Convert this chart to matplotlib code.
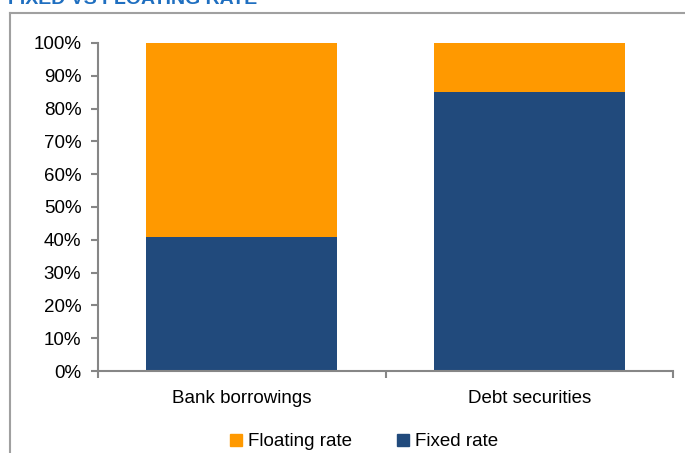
import matplotlib.pyplot as plt
from matplotlib.lines import Line2D
from matplotlib.patches import Patch
from matplotlib.ticker import PercentFormatter

plt.rcParams['font.family'] = ['Liberation Sans', 'DejaVu Sans']

categories = ['Bank borrowings', 'Debt securities']
fixed_rate = [41, 85]
floating_rate = [59, 15]

navy = '#214a7c'
orange = '#ff9900'
grey = '#868686'

W, H = 685, 453
fig = plt.figure(figsize=(W / 100, H / 100), dpi=100)
ax = fig.add_axes([98 / W, 1 - 371 / H, (673 - 98) / W, (371 - 43) / H])

x = range(len(categories))
ax.bar(x, fixed_rate, width=0.665, color=navy, label='Fixed rate')
ax.bar(x, floating_rate, width=0.665, bottom=fixed_rate, color=orange, label='Floating rate')

ax.set_xlim(-0.5, 1.5)
ax.set_ylim(0, 100)
ax.set_yticks(range(0, 101, 10))
ax.yaxis.set_major_formatter(PercentFormatter(decimals=0))
ax.set_xticks([-0.5, 0.5, 1.5])
ax.set_xticklabels([])
ax.set_xticks(list(x), minor=True)
ax.set_xticklabels(categories, minor=True)
ax.tick_params(axis='x', which='minor', length=0, pad=14, labelsize=13.5)
ax.tick_params(axis='x', which='major', length=5, color=grey, width=1.5)
ax.tick_params(axis='y', length=5, color=grey, width=1.5, labelsize=13.5, pad=7)

for s in ['top', 'right']:
    ax.spines[s].set_visible(False)
for s in ['left', 'bottom']:
    ax.spines[s].set_color(grey)
    ax.spines[s].set_linewidth(1.5)

# legend, floating first
handles = [Patch(color=orange, label='Floating rate'), Patch(color=navy, label='Fixed rate')]
fig.legend(handles=handles, loc='center', bbox_to_anchor=(364 / W, 1 - 442 / H), ncol=2,
           frameon=False, fontsize=13.5, handlelength=0.65, handleheight=0.65,
           handletextpad=0.3, columnspacing=2.4)

# outer frame (cropped chart box)
fig.add_artist(Line2D([10 / W, 10 / W], [0, 1 - 13 / H], color='#a0a0a0', lw=1.5))
fig.add_artist(Line2D([10 / W, 1], [1 - 13 / H, 1 - 13 / H], color='#a0a0a0', lw=1.5))

# title cut off at the top
fig.text(8 / W, 1 - 4 / H, 'FIXED VS FLOATING RATE', color='#1f6fc0', fontsize=14,
         fontweight='bold', va='baseline', ha='left')

fig.savefig('out.png', dpi=100)
